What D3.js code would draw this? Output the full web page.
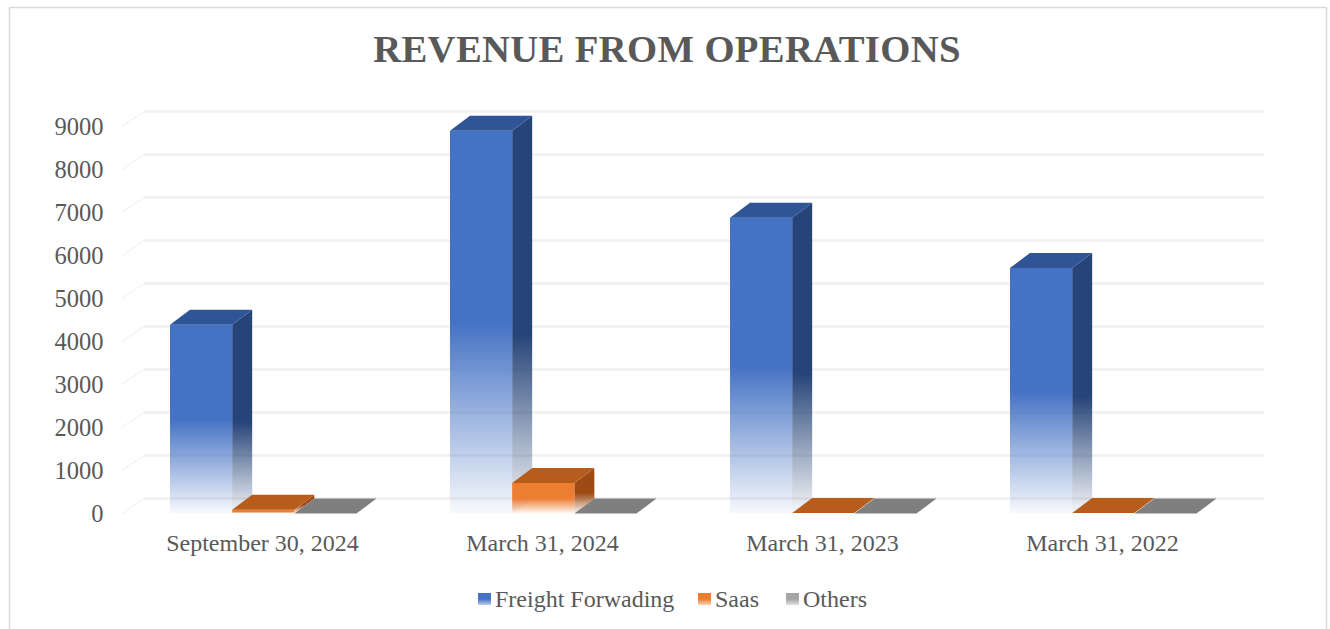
<!DOCTYPE html>
<html><head><meta charset="utf-8"><script src="https://cdn.jsdelivr.net/npm/d3@7"></script>
<style>html,body{margin:0;padding:0;background:#fff}svg{display:block}text{font-family:"Liberation Serif",serif;fill:#595959}</style>
</head><body><svg id="c" width="1330" height="629"></svg>
<script>
const categories=["September 30, 2024","March 31, 2024","March 31, 2023","March 31, 2022"];
const seriesNames=["Freight Forwading","Saas","Others"];
const freight=[4390,8900,6880,5710];
const saas=[90,710,10,10];
const others=[0,0,0,0];
const yTicks=[0,1000,2000,3000,4000,5000,6000,7000,8000,9000];
const colors={front:["#4472c4","#ed7d31","#a5a5a5"],side:["#264478","#9e4a14","#636363"],top:["#2f5597","#b85c1c","#7f7f7f"]};
const values=[freight,saas,others];
const W=1330,H=629,depthX=20,depthY=15;
const svg=d3.select("#c");
const x=d3.scaleBand().domain(categories).range([122,1242]).paddingInner(0).paddingOuter(0);
const s=d3.scaleBand().domain(seriesNames).range([48,234.5]);
const y=d3.scaleLinear().domain([0,9000]).range([513.5,126.5]);
const defs=svg.append("defs");
function grad(id,c,start){const g=defs.append("linearGradient").attr("id",id).attr("x1",0).attr("x2",0).attr("y1",0).attr("y2",1);
 g.append("stop").attr("offset",start).attr("stop-color",c);
 g.append("stop").attr("offset","100%").attr("stop-color",c).attr("stop-opacity",0.04);}
seriesNames.forEach((n,i)=>{grad("f"+i,colors.front[i],"50%");grad("s"+i,colors.side[i],"55%");});
// chart frame
svg.append("path").attr("d",`M9.5,${H}V7.5H1326.5V${H}`).attr("fill","none").attr("stroke","#d9d9d9").attr("stroke-width",1.5);
// title
svg.append("text").attr("x",667).attr("y",62).attr("text-anchor","middle").attr("font-size",38.7).attr("font-weight","bold").attr("letter-spacing",0.35).text("REVENUE FROM OPERATIONS");
// gridlines on back wall and floor stubs
const grid=svg.append("g");
yTicks.forEach(t=>{
 grid.append("line").attr("x1",x.range()[0]+depthX+2).attr("x2",1264).attr("y1",y(t)-depthY).attr("y2",y(t)-depthY).attr("stroke","#f0f0f0").attr("stroke-width",2.5);
 grid.append("line").attr("x1",x.range()[0]).attr("x2",x.range()[0]+depthX+2).attr("y1",y(t)).attr("y2",y(t)-depthY).attr("stroke","#e6e6e6").attr("stroke-width",1).attr("stroke-dasharray","2 1");
});
// y axis labels
const yAxis=d3.axisLeft(y).tickValues(yTicks).tickSize(0).tickPadding(0).tickFormat(d3.format("d"));
const ga=svg.append("g").attr("transform","translate(103.5,0)").call(yAxis);
ga.select(".domain").remove();
ga.selectAll("text").attr("font-size",24.5).attr("dy","0.33em").style("font-family",'"Liberation Serif",serif');
// bars
categories.forEach((cat,ci)=>{
 const g=svg.append("g").attr("transform",`translate(${x(cat)},0)`);
 seriesNames.forEach((n,si)=>{
  const v=values[si][ci],x0=s(n),w=s.bandwidth(),y0=y(0),yt=y(v),h=y0-yt;
  if(h>=1){
   g.append("path").attr("d",`M${x0+w},${yt}l${depthX},${-depthY}V${y0-depthY}l${-depthX},${depthY}Z`).attr("fill",`url(#s${si})`);
   g.append("rect").attr("x",x0).attr("y",yt).attr("width",w).attr("height",h).attr("fill",`url(#f${si})`);
  }
  g.append("path").attr("d",`M${x0},${yt}l${depthX},${-depthY}h${w}l${-depthX},${depthY}Z`).attr("fill",colors.top[si]);
 });
});
// category labels
const xAxis=d3.axisBottom(x).tickSize(0).tickPadding(0);
const gx=svg.append("g").attr("transform","translate(0,534)").call(xAxis);
gx.select(".domain").remove();
gx.selectAll("text").attr("font-size",24).attr("dy","0.71em").attr("transform","translate(0.5,0)").style("font-family",'"Liberation Serif",serif');
// legend
const legendX=[478,698,786];
seriesNames.forEach((n,i)=>{
 const id="l"+i;
 const g=defs.append("linearGradient").attr("id",id).attr("x1",0).attr("x2",0).attr("y1",0).attr("y2",1);
 g.append("stop").attr("offset","50%").attr("stop-color",colors.front[i]);
 g.append("stop").attr("offset","100%").attr("stop-color",colors.front[i]).attr("stop-opacity",0.35);
 svg.append("rect").attr("x",legendX[i]).attr("y",593).attr("width",13).attr("height",12).attr("fill",`url(#${id})`);
 svg.append("text").attr("x",legendX[i]+17).attr("y",607).attr("font-size",24).text(n);
});
</script></body></html>
